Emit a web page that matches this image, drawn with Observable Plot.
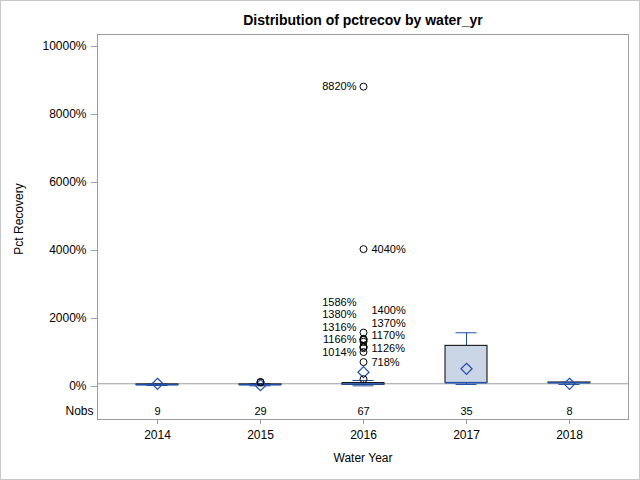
<!DOCTYPE html>
<html><head><meta charset="utf-8">
<script src="https://cdn.jsdelivr.net/npm/d3@7"></script>
<script src="https://cdn.jsdelivr.net/npm/@observablehq/plot@0.6"></script>
<style>
body{margin:0;background:#fff;}
#wrap{position:relative;width:640px;height:480px;overflow:hidden}
#border{position:absolute;left:0;top:0;width:638px;height:478px;border:1px solid #c8c8c8;pointer-events:none}
</style></head><body><div id="wrap"><div id="border"></div></div>
<script>
// ---- data ----
const years = ["2014", "2015", "2016", "2017", "2018"];
const nobs = [9, 29, 67, 35, 8];
const whiskerLow = [30, 20, 20, 59, 59];
const q1 = [40, 40, 50, 105, 100];
const median = [50, 50, 70, 109, 110];
const q3 = [60, 60, 100, 1196, 118];
const whiskerHigh = [70, 80, 176, 1580, 120];
const means = [80, 40, 420, 521, 79];
const outlierYears = ["2015", "2015", "2016", "2016", "2016", "2016", "2016", "2016", "2016", "2016", "2016", "2016", "2016", "2016", "2016"];
const outlierValues = [120, 135, 215, 718, 1014, 1126, 1166, 1170, 1316, 1370, 1380, 1400, 1586, 4040, 8820];
const labeledOutliers = [718, 1014, 1126, 1166, 1170, 1316, 1370, 1380, 1400, 1586, 4040, 8820];
const yTicks = [0, 2000, 4000, 6000, 8000, 10000];

const titleText = "Distribution of pctrecov by water_yr";
const xLabel = "Water Year";
const yLabel = "Pct Recovery";

// ---- layout ----
const W = 640, H = 480;
const mTop = 34, mBottom = 61, mLeft = 97, mRight = 12;
const yDomain = [-970.6, 10352.9];
const sepValue = 80;     // separator between plot and Nobs inset
const nobsValue = -735;  // vertical position of Nobs row
const blue = "#2151ad";

const boxes = years.map((y, i) => ({year: y, n: nobs[i], lo: whiskerLow[i], q1: q1[i], med: median[i], q3: q3[i], hi: whiskerHigh[i], mean: means[i]}));
const outliers = outlierYears.map((y, i) => ({year: y, value: outlierValues[i]}));

// label collision avoidance: alternate sides, stack upward
const yS = d3.scaleLinear().domain(yDomain).range([H - mBottom, mTop]);
const sorted = [...labeledOutliers].sort((a, b) => a - b);
const last = {right: Infinity, left: Infinity};
const labels = sorted.map((v, i) => {
  const side = i % 2 === 0 ? "right" : "left";
  let py = yS(v);
  py = Math.min(py, last[side] - 12.5);
  last[side] = py;
  return {year: "2016", value: yS.invert(py), text: v + "%", side};
});

const chart = Plot.plot({
  width: W, height: H,
  marginTop: mTop, marginBottom: mBottom, marginLeft: mLeft, marginRight: mRight,
  style: {fontFamily: "'Liberation Sans', Arial, sans-serif", fontSize: "12px", background: "transparent", color: "#000"},
  x: {type: "band", domain: years, paddingInner: 0.593, paddingOuter: 0.368, label: null},
  y: {domain: yDomain, label: null},
  marks: [
    Plot.frame({stroke: "#9c9c9c"}),
    Plot.ruleY([sepValue], {stroke: "#9c9c9c"}),
    Plot.axisY({ticks: yTicks, tickFormat: d => d + "%", tickSize: 6, tickPadding: 5, stroke: "#9c9c9c", fontSize: 12, label: null}),
    Plot.axisX({tickSize: 5, tickPadding: 6, stroke: "#9c9c9c", fontSize: 12, label: null}),
    Plot.ruleX(boxes, {x: "year", y1: "q3", y2: "hi", stroke: blue}),
    Plot.ruleX(boxes, {x: "year", y1: "lo", y2: "q1", stroke: blue}),
    Plot.tickY(boxes, {x: "year", y: "hi", stroke: blue, insetLeft: 10.5, insetRight: 10.5}),
    Plot.tickY(boxes, {x: "year", y: "lo", stroke: blue, insetLeft: 10.5, insetRight: 10.5}),
    Plot.barY(boxes, {x: "year", y1: "q1", y2: "q3", fill: "#cad5e5", stroke: "#000"}),
    Plot.tickY(boxes, {x: "year", y: "med", stroke: blue, strokeWidth: 1.5}),
    Plot.dot(boxes, {x: "year", y: "mean", symbol: "diamond2", r: 5, stroke: blue, fill: "none", strokeWidth: 1.2}),
    Plot.dot(outliers, {x: "year", y: "value", r: 3.5, stroke: "#000", fill: "none", strokeWidth: 1}),
    Plot.text(labels.filter(d => d.side === "right"), {x: "year", y: "value", text: "text", textAnchor: "start", dx: 8, fontSize: 11}),
    Plot.text(labels.filter(d => d.side === "left"), {x: "year", y: "value", text: "text", textAnchor: "end", dx: -7, fontSize: 11}),
    Plot.text(boxes, {x: "year", y: () => nobsValue, text: d => String(d.n), fontSize: 11}),
    Plot.text(["Nobs"], {frameAnchor: "left", y: () => nobsValue, text: d => d, textAnchor: "end", dx: -4, fontSize: 12}),
    Plot.text([yLabel], {frameAnchor: "left", text: d => d, textAnchor: "middle", rotate: -90, dx: -78, dy: -8, fontSize: 12}),
    Plot.text([xLabel], {frameAnchor: "bottom", text: d => d, dy: 39, lineAnchor: "middle", fontSize: 12}),
    Plot.text([titleText], {frameAnchor: "top", text: d => d, dy: -14, lineAnchor: "middle", fontSize: 14, fontWeight: "bold"})
  ]
});
document.getElementById("wrap").prepend(chart);
</script>
</body></html>
